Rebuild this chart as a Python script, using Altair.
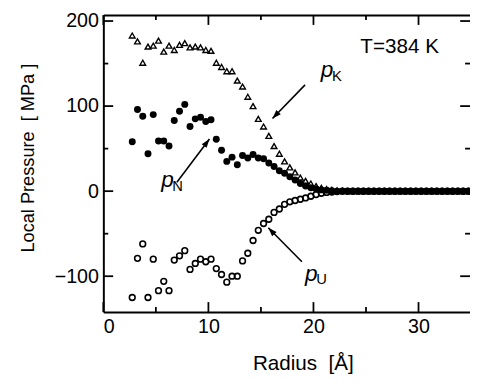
import altair as alt
import pandas as pd

# ---------------- data ----------------
radius = [2.75, 3.25, 3.75, 4.25, 4.75, 5.25, 5.75, 6.25, 6.75, 7.25,
          7.75, 8.25, 8.75, 9.25, 9.75, 10.25, 10.75, 11.25, 11.75, 12.25,
          12.75, 13.25, 13.75, 14.25, 14.75, 15.25, 15.75, 16.25, 16.75, 17.25,
          17.75, 18.25, 18.75, 19.25, 19.75, 20.25, 20.75, 21.25, 21.75, 22.25,
          22.75, 23.25, 23.75, 24.25, 24.75, 25.25, 25.75, 26.25, 26.75, 27.25,
          27.75, 28.25, 28.75, 29.25, 29.75, 30.25, 30.75, 31.25, 31.75, 32.25,
          32.75, 33.25, 33.75, 34.25, 34.75]

p_k = [183, 176, 151, 170, 171, 177, 164, 171, 166, 172,
       174, 169, 170, 169, 166, 165, 151, 146, 141, 141,
       130, 123, 111, 100, 85, 76, 65, 53, 44, 35,
       28, 22, 16, 12, 9, 6, 4, 2.5, 1.5, 1,
       0.5, 0, 0, 0, 0, 0, 0, 0, 0, 0,
       0, 0, 0, 0, 0, 0, 0, 0, 0, 0,
       0, 0, 0, 0, 0]

p_n = [58, 96, 88, 44, 90, 59, 59, 53, 83, 94,
       102, 76, 85, 87, 82, 84, 61, 48, 35, 40,
       31, 42, 39, 43, 39, 38, 33, 29, 24, 21,
       17, 13, 9, 6, 4, 2.5, 1.5, 1, 0.5, 0,
       0, 0, 0, 0, 0, 0, 0, 0, 0, 0,
       0, 0, 0, 0, 0, 0, 0, 0, 0, 0,
       0, 0, 0, 0, 0]

p_u = [-125, -79, -62, -125, -80, -117, -106, -117, -81, -76,
       -70, -92, -85, -80, -83, -80, -91, -98, -107, -100,
       -100, -82, -73, -58, -46, -38, -33, -25, -21, -15.5,
       -12.5, -11, -9.5, -8, -6, -4, -2.5, -1.5, -1, -0.5,
       0, 0, 0, 0, 0, 0, 0, 0, 0, 0,
       0, 0, 0, 0, 0, 0, 0, 0, 0, 0,
       0, 0, 0, 0, 0]

x_major = [0, 10, 20, 30]
x_minor = [5, 15, 25]
y_major = [-100, 0, 100, 200]
y_minor = [-50, 50, 150]

# annotation labels (p with subscript) and arrows
lab_x = [21.3, 6.1, 19.8]
lab_y = [142, 12.7, -97]
lab_main = ["p", "p", "p"]
lab_sub = ["K", "N", "U"]

arr_x1 = [19.2, 7.0, 18.9]
arr_y1 = [125, 10.4, -83]
arr_x2 = [16.1, 10.1, 15.7]
arr_y2 = [85.5, 61.3, -43]
arr_angle = [224, 37, 316]

temp_text = ["T=384 K"]
temp_x = [28.2]
temp_y = [169]

# ---------------- layout ----------------
W, H = 373, 302
XDOM = [0, 34.9]
YDOM = [-142, 207]
FONT = "Liberation Sans"
NB = "\u00a0"

xs = alt.Scale(domain=XDOM, nice=False, zero=False)
ys = alt.Scale(domain=YDOM, nice=False, zero=False)

df = pd.DataFrame({"r": radius, "pk": p_k, "pn": p_n, "pu": p_u})

# main axes (bottom + left) carried by the triangle layer
tri = alt.Chart(df).mark_point(shape="triangle-up", filled=False, color="black",
                               size=34, strokeWidth=1.4, opacity=1).encode(
    x=alt.X("r:Q", scale=xs, axis=alt.Axis(
        orient="bottom", values=x_major, ticks=False, tickSize=0, grid=False,
        domain=True, domainColor="black", domainWidth=2,
        labelFont=FONT, labelFontSize=20, labelColor="black", labelPadding=5,
        title="Radius" + NB + NB + "[Å]", titleFont=FONT, titleFontSize=21,
        titleFontWeight="normal", titleColor="black", titleX=203, titlePadding=17)),
    y=alt.Y("pk:Q", scale=ys, axis=alt.Axis(
        orient="left", values=y_major, ticks=False, tickSize=0, grid=False,
        domain=True, domainColor="black", domainWidth=2,
        labelFont=FONT, labelFontSize=20, labelColor="black", labelPadding=5,
        title="Local Pressure" + NB + NB + "[" + NB + "MPa" + NB + "]", titleFont=FONT,
        titleFontSize=18.5, titleFontWeight="normal", titleColor="black",
        titleY=145, titlePadding=17)),
)

filled = alt.Chart(df).mark_circle(color="black", size=50, opacity=1).encode(
    x=alt.X("r:Q", scale=xs, axis=alt.Axis(
        orient="top", labels=False, ticks=False, tickSize=0, grid=False,
        domain=True, domainColor="black", domainWidth=2, title=None)),
    y=alt.Y("pn:Q", scale=ys, axis=None),
)

opened = alt.Chart(df).mark_point(shape="circle", filled=False, color="black",
                                  size=34, strokeWidth=1.6, opacity=1).encode(
    x=alt.X("r:Q", scale=xs, axis=None),
    y=alt.Y("pu:Q", scale=ys, axis=None),
)

# inward tick marks
def xticks(vals, y0, y1):
    d = pd.DataFrame({"v": vals})
    return alt.Chart(d).mark_rule(color="black", strokeWidth=1.8).encode(
        x=alt.X("v:Q", scale=xs, axis=None), y=alt.value(y0), y2=alt.value(y1))

def yticks(vals, x0, x1):
    d = pd.DataFrame({"v": vals})
    return alt.Chart(d).mark_rule(color="black", strokeWidth=1.8).encode(
        y=alt.Y("v:Q", scale=ys, axis=None), x=alt.value(x0), x2=alt.value(x1))

ticks = [
    xticks(x_major, H, H - 10), xticks(x_minor, H, H - 5),
    xticks(x_major, 0, 10), xticks(x_minor, 0, 5),
    yticks(y_major, 0, 10), yticks(y_minor, 0, 5),
    yticks(y_major, W, W - 10), yticks(y_minor, W, W - 5),
]

# annotations
lab_df = pd.DataFrame({"x": lab_x, "y": lab_y, "main": lab_main, "sub": lab_sub})
lab_main_layer = alt.Chart(lab_df).mark_text(
    font=FONT, fontSize=23, fontStyle="italic", align="center", baseline="middle",
    color="black").encode(
    x=alt.X("x:Q", scale=xs, axis=None), y=alt.Y("y:Q", scale=ys, axis=None), text="main:N")
lab_sub_layer = alt.Chart(lab_df).mark_text(
    font=FONT, fontSize=15, align="left", baseline="middle", dx=5, dy=6,
    color="black").encode(
    x=alt.X("x:Q", scale=xs, axis=None), y=alt.Y("y:Q", scale=ys, axis=None), text="sub:N")

arr_df = pd.DataFrame({"x1": arr_x1, "y1": arr_y1, "x2": arr_x2, "y2": arr_y2,
                       "ang": arr_angle})
arr_line = alt.Chart(arr_df).mark_rule(color="black", strokeWidth=1.6).encode(
    x=alt.X("x1:Q", scale=xs, axis=None), y=alt.Y("y1:Q", scale=ys, axis=None),
    x2="x2:Q", y2="y2:Q")
arr_head = alt.Chart(arr_df).mark_point(
    shape="M0,0 L0.6,1.7 L-0.6,1.7 Z", filled=True, color="black", size=110,
    opacity=1, strokeWidth=0).encode(
    x=alt.X("x2:Q", scale=xs, axis=None), y=alt.Y("y2:Q", scale=ys, axis=None),
    angle=alt.Angle("ang:Q", scale=None))

temp_df = pd.DataFrame({"x": temp_x, "y": temp_y, "t": temp_text})
temp_layer = alt.Chart(temp_df).mark_text(
    font=FONT, fontSize=21, align="center", baseline="middle", color="black").encode(
    x=alt.X("x:Q", scale=xs, axis=None), y=alt.Y("y:Q", scale=ys, axis=None), text="t:N")

chart = alt.layer(
    tri, filled, opened, *ticks, arr_line, arr_head,
    lab_main_layer, lab_sub_layer, temp_layer
).resolve_axis(x="independent", y="independent").properties(
    width=W, height=H,
    autosize=alt.AutoSizeParams(type="none"),
    padding={"left": 97, "top": 4, "right": 0, "bottom": 64},
    background="white",
).configure_view(stroke=None)

chart.save("out.html", embed_options={"renderer": "svg", "actions": False})
